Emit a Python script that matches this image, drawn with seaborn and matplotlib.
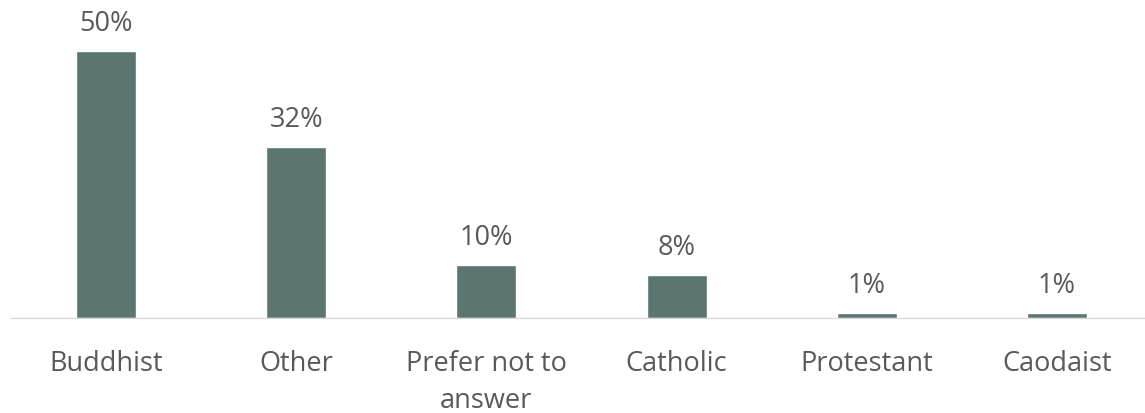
import matplotlib
matplotlib.use("Agg")
import matplotlib.pyplot as plt
import seaborn as sns
import pandas as pd

# Religious affiliation shares (percent)
categories = ["Buddhist", "Other", "Prefer not to answer", "Catholic", "Protestant", "Caodaist"]
values = [50, 32, 10, 8, 1, 1]
tick_labels = ["Buddhist", "Other", "Prefer not to\nanswer", "Catholic", "Protestant", "Caodaist"]
value_labels = ["50%", "32%", "10%", "8%", "1%", "1%"]

sns.set_theme(style="white")
plt.rcParams["font.family"] = ["Open Sans", "DejaVu Sans"]

W, H = 1145, 413
fig = plt.figure(figsize=(W / 100, H / 100), dpi=100)
ax = fig.add_axes([11 / W, 94.7 / H, 1141 / W, 318.3 / H])

df = pd.DataFrame({"religion": categories, "share": values})
sns.barplot(data=df, x="religion", y="share", color="#5B7670", saturation=1,
            width=0.315, ax=ax)

ax.set_xlim(-0.5, len(categories) - 0.5)
ax.set_ylim(0, 59.47)

for i, (v, lab) in enumerate(zip(values, value_labels)):
    ax.annotate(lab, (i, v), xytext=(0, 14.4), textcoords="offset points",
                ha="center", va="baseline", fontsize=19.5, color="#595959")

ax.set_xticks(range(len(categories)))
ax.set_xticklabels(tick_labels, fontsize=19.5, color="#595959", linespacing=1.4)
ax.tick_params(axis="x", length=0, pad=23)
ax.set_yticks([])
ax.set_xlabel("")
ax.set_ylabel("")

for side in ("top", "right", "left"):
    ax.spines[side].set_visible(False)
ax.spines["bottom"].set_color("#D9D9D9")
ax.spines["bottom"].set_linewidth(0.9)

fig.savefig("out.png", dpi=100)
